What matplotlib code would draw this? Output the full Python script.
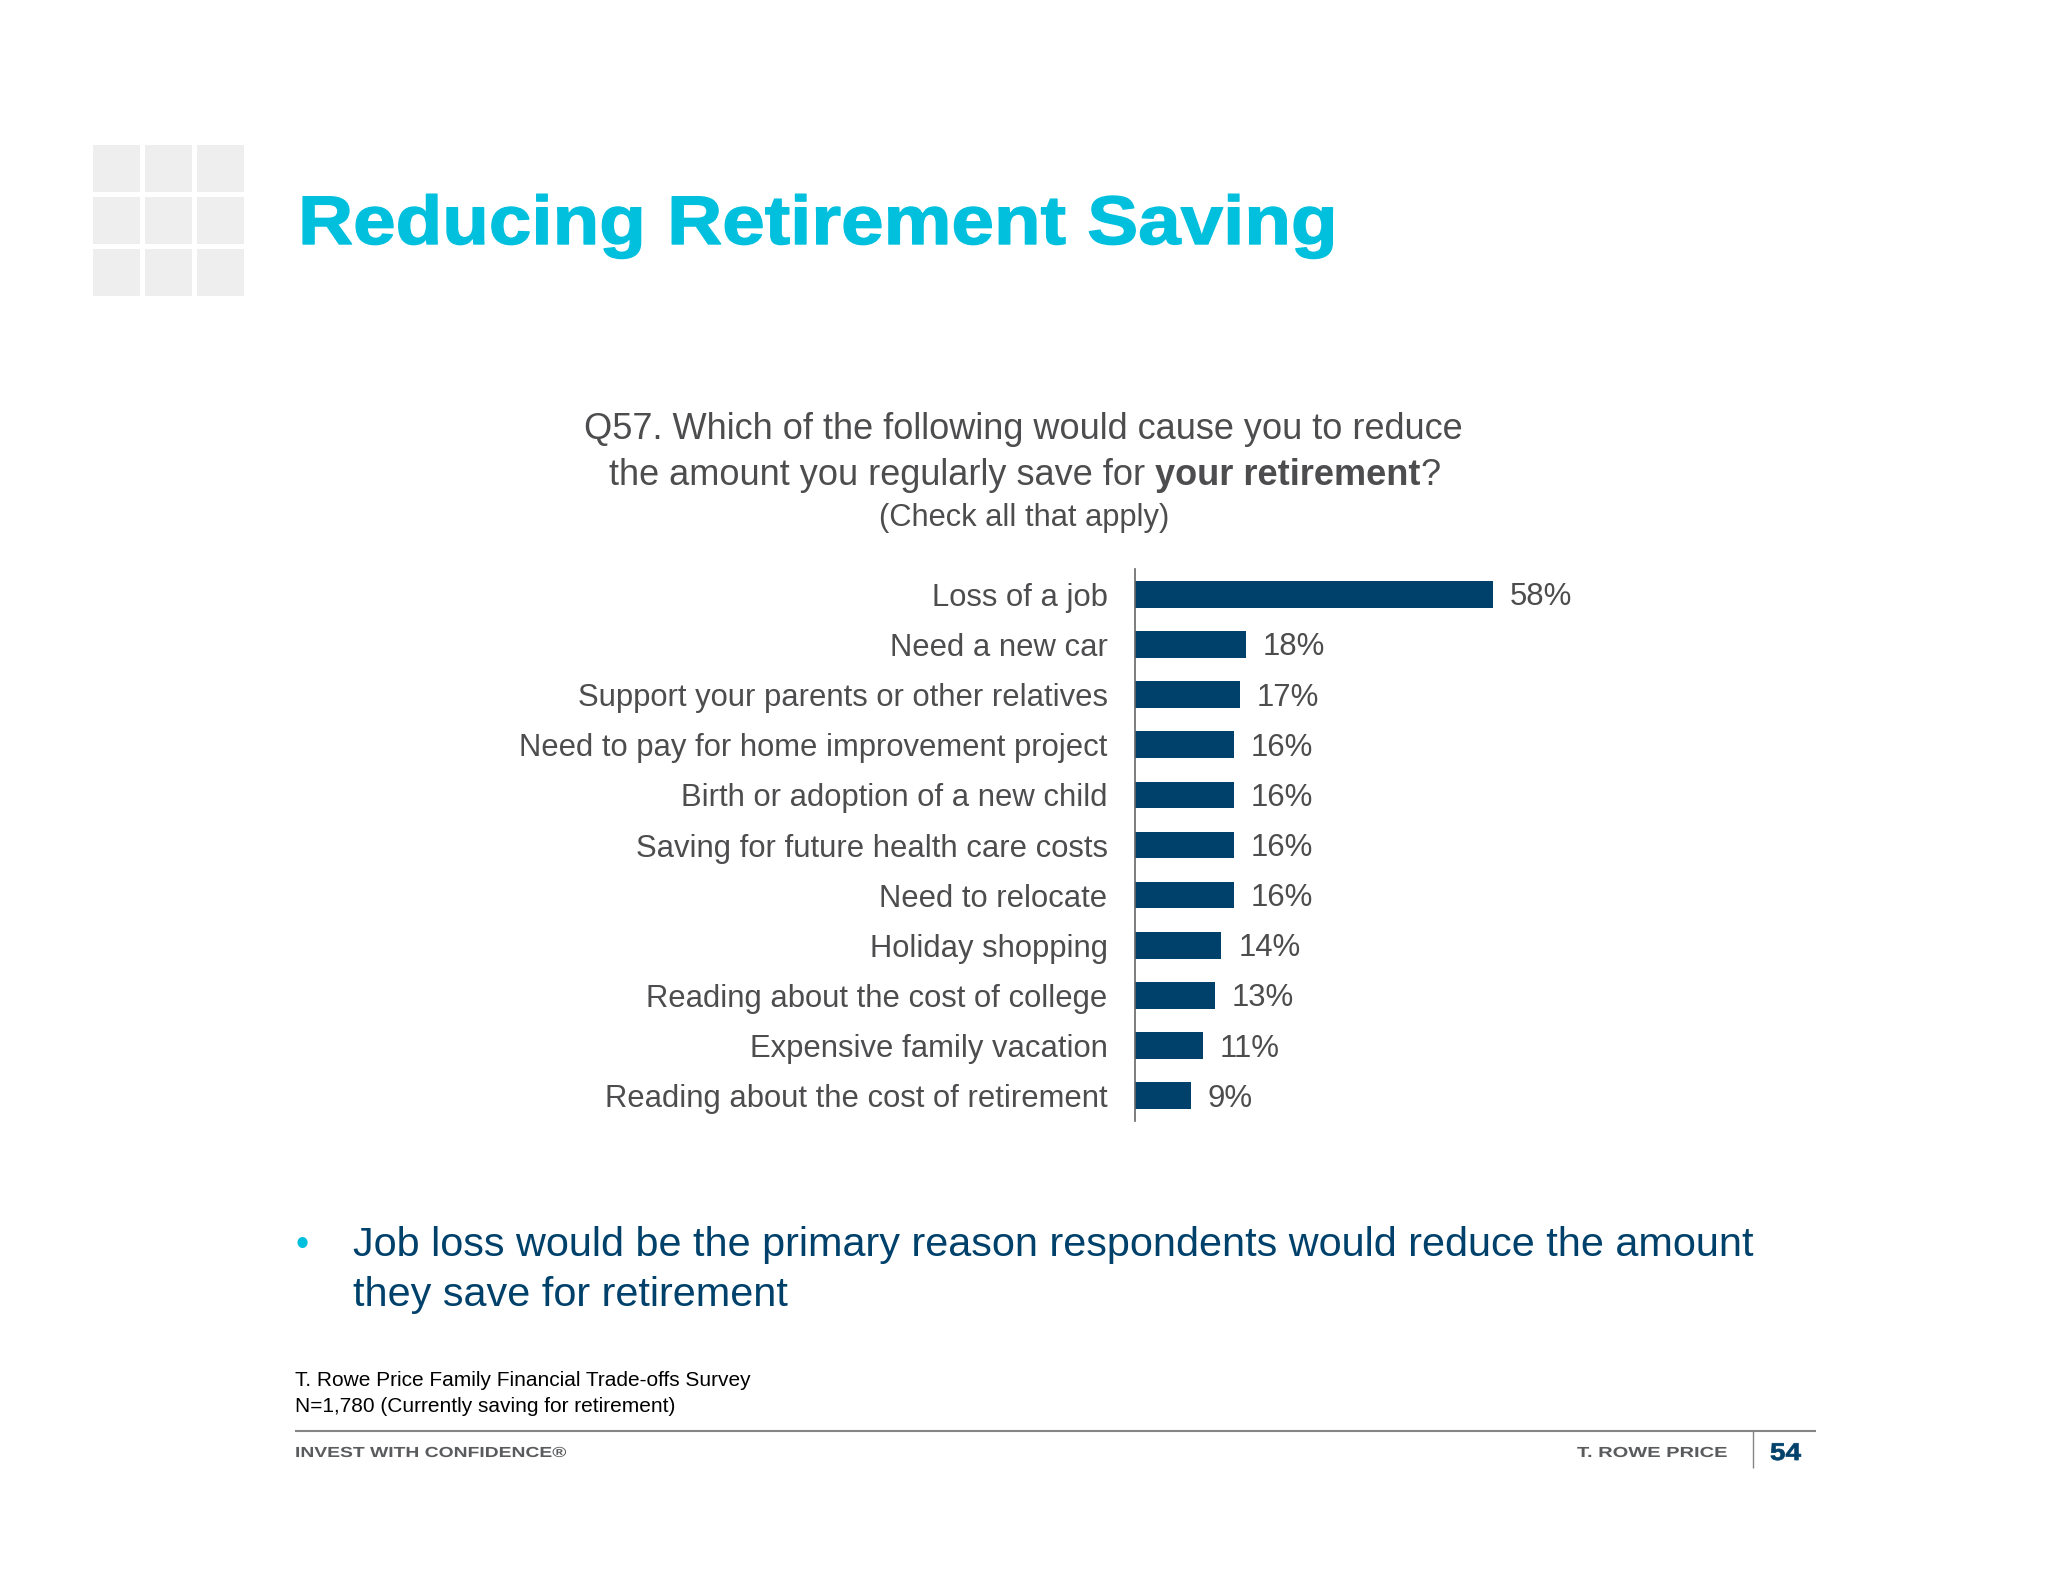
import matplotlib
matplotlib.use('Agg')
from matplotlib import pyplot as plt
from matplotlib.patches import Rectangle
from matplotlib.patheffects import AbstractPathEffect
from matplotlib.transforms import Affine2D

plt.rcParams['font.family'] = ['Liberation Sans', 'DejaVu Sans']

W, H = 2048, 1582

categories = ['Loss of a job', 'Need a new car', 'Support your parents or other relatives',
              'Need to pay for home improvement project', 'Birth or adoption of a new child',
              'Saving for future health care costs', 'Need to relocate', 'Holiday shopping',
              'Reading about the cost of college', 'Expensive family vacation',
              'Reading about the cost of retirement']
values = [58, 18, 17, 16, 16, 16, 16, 14, 13, 11, 9]

NAVY = '#00416b'
CYAN = '#00c0de'
GREY = '#4d4d4f'
FOOT = '#5a5b5d'


class StretchX(AbstractPathEffect):
    # the slide text is wider than Liberation, so widen the glyphs about the left edge
    def __init__(self, sx, x0, lw=0.0):
        self.sx, self.x0, self.lw = sx, x0, lw

    def draw_path(self, renderer, gc, tpath, affine, rgbFace=None):
        a = affine + Affine2D().translate(-self.x0, 0).scale(self.sx, 1).translate(self.x0, 0)
        gc0 = renderer.new_gc()
        gc0.copy_properties(gc)
        gc0.set_foreground(rgbFace)
        gc0.set_linewidth(self.lw)
        renderer.draw_path(gc0, tpath, a, rgbFace)
        gc0.restore()


def stretch_to(t, width, lw=0.0):
    bb = t.get_window_extent(fig.canvas.get_renderer())
    t.set_path_effects([StretchX(width / bb.width, bb.x0, lw)])


fig = plt.figure(figsize=(W / 100, H / 100), dpi=100)

# page level axes in pixel coords, everything but the bars
page = fig.add_axes([0, 0, 1, 1])
page.set_xlim(0, W)
page.set_ylim(H, 0)
page.axis('off')

for cx in [93, 145, 197]:
    for cy in [145, 197, 249]:
        page.add_patch(Rectangle((cx, cy), 47, 47, color='#eeeeee', lw=0))

title = page.text(298, 244, 'Reducing Retirement Saving', fontsize=49.5, fontweight='bold',
                  color=CYAN, va='baseline')
stretch_to(title, 1039, lw=1.0)

page.text(1023, 439, 'Q57. Which of the following would cause you to reduce', fontsize=26,
          color=GREY, ha='center', va='baseline')
line2 = page.text(609, 485, 'the amount you regularly save for ', fontsize=26, color=GREY, va='baseline')
x_px = line2.get_window_extent(fig.canvas.get_renderer()).x1
bold = page.text(x_px, 485, 'your retirement', fontsize=26, color=GREY, fontweight='bold', va='baseline')
x_px = bold.get_window_extent(fig.canvas.get_renderer()).x1
page.text(x_px, 485, '?', fontsize=26, color=GREY, va='baseline')
page.text(1024, 526, '(Check all that apply)', fontsize=22.2, color=GREY, ha='center', va='baseline')

# bars: 6.17 px per percent, 50.14 px per row
ax = fig.add_axes([1135 / W, 1 - 1120.8 / H, 430.5 / W, 551.6 / H])
ax.set_xlim(0, 69.8)
ax.set_ylim(10.5, -0.5)
ax.patch.set_visible(False)
rows = list(range(len(categories)))
ax.barh(rows, values, height=0.532, color=NAVY)
for row, v in zip(rows, values):
    ax.annotate('%d%%' % v, (v, row), xytext=(12.2, -2.2), textcoords='offset points',
                fontsize=22.4, color=GREY, va='center')
ax.set_yticks(rows)
ax.set_yticklabels(categories, fontsize=22.3, color=GREY)
ax.tick_params(axis='y', length=0, pad=19.8)
ax.set_xticks([])
for s in ['top', 'right', 'bottom']:
    ax.spines[s].set_visible(False)
ax.spines['left'].set_color('#666666')
ax.spines['left'].set_linewidth(1.2)

page.text(302, 1256, '•', fontsize=27, color=CYAN, ha='center', va='baseline')
page.text(353, 1256, 'Job loss would be the primary reason respondents would reduce the amount',
          fontsize=29.8, color=NAVY, va='baseline')
page.text(353, 1306, 'they save for retirement', fontsize=29.8, color=NAVY, va='baseline')

page.text(295, 1386, 'T. Rowe Price Family Financial Trade-offs Survey', fontsize=15, color='black', va='baseline')
page.text(295, 1412, 'N=1,780 (Currently saving for retirement)', fontsize=15, color='black', va='baseline')

page.plot([295, 1816], [1431, 1431], color='#858585', lw=1.5, solid_capstyle='butt')
page.plot([1753, 1753], [1431, 1468], color='#858585', lw=1, solid_capstyle='butt')

foot_l = page.text(295, 1457, 'INVEST WITH CONFIDENCE®', fontsize=10.5, fontweight='bold', color=FOOT, va='baseline')
stretch_to(foot_l, 273)
foot_r = page.text(1577, 1457, 'T. ROWE PRICE', fontsize=10.5, fontweight='bold', color=FOOT, va='baseline')
stretch_to(foot_r, 151)
num = page.text(1770, 1460, '54', fontsize=17.5, fontweight='bold', color=NAVY, va='baseline')
stretch_to(num, 31, lw=0.5)

fig.savefig('out.png', dpi=100)
